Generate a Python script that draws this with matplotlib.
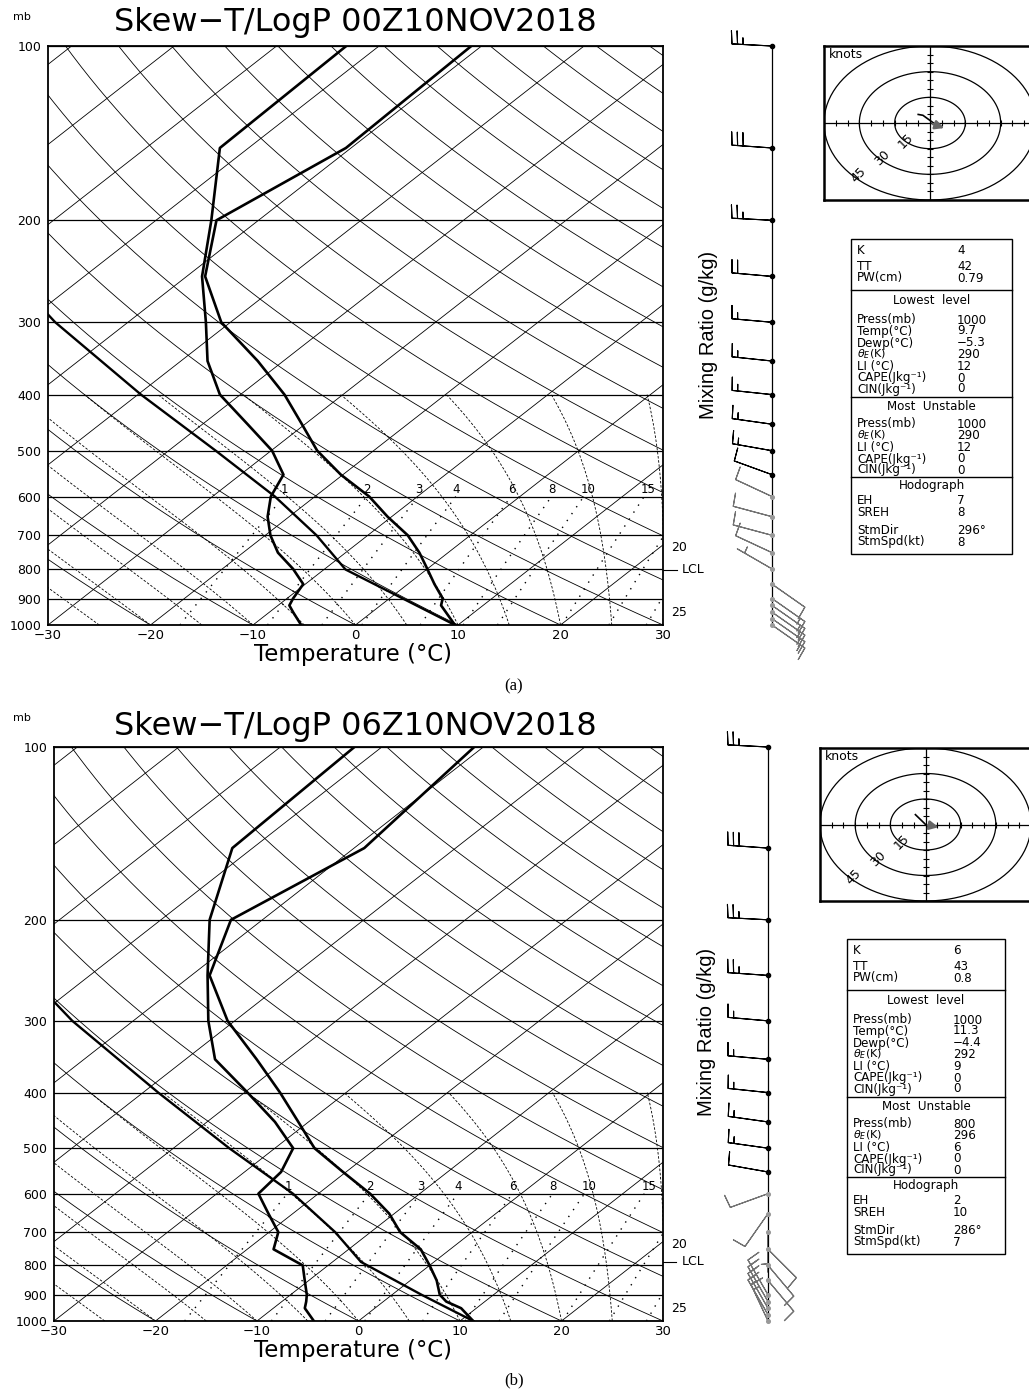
import numpy as np
import matplotlib.pyplot as plt
from matplotlib.patches import Rectangle

W, H = 1029, 1392
SKEW = 72.3  # isotherm shift (deg C) per decade of pressure

# ---- soundings ----
levels = [1000, 950, 925, 900, 850, 800, 750, 700, 650, 600, 550, 500,
          450, 400, 350, 300, 250, 200, 150, 100]
temp_00z = [9.7, 7.2, 5.9, 5.2, 2.6, 0.0, -2.8, -6.1, -10.4, -14.7, -20.2, -25.5,
            -30.3, -35.7, -42.5, -50.9, -58.2, -64.1, -60.5, -61.0]
dewp_00z = [-5.3, -7.7, -8.9, -9.4, -10.2, -13.1, -16.6, -19.5, -22.1, -24.3, -25.8, -29.9,
            -35.6, -42.0, -47.4, -52.4, -58.5, -64.6, -72.8, -73.2]
temp_06z = [11.3, 8.5, 6.2, 4.7, 2.6, 0.0, -2.9, -7.1, -10.5, -14.9, -20.3, -26.1,
            -31.0, -36.5, -43.0, -50.7, -58.2, -63.1, -59.0, -60.9]
dewp_06z = [-4.4, -6.9, -7.6, -8.4, -10.4, -12.5, -17.4, -19.1, -22.4, -25.9, -26.4, -28.2,
            -33.3, -39.7, -47.1, -52.6, -58.4, -65.2, -72.0, -72.7]

# lifted parcel paths
parcel_p_00z = [1000, 900, 802, 700, 600, 500, 400, 300, 250]
parcel_t_00z = [9.7, 1.3, -7.9, -15.0, -23.9, -35.4, -49.7, -67.1, -77.0]
parcel_p_06z = [1000, 900, 789, 700, 600, 500, 400, 300, 250]
parcel_t_06z = [11.3, 2.9, -7.2, -13.5, -22.5, -34.5, -48.5, -66.0, -76.0]
lcl_00z = 802
lcl_06z = 789

# ---- winds (kt, direction from) ----
wind_p = [100, 150, 200, 250, 300, 350, 400, 450, 500, 550, 600, 650, 700,
          750, 800, 850, 900, 925, 950, 975, 1000]
wspd_00z = [25, 30, 25, 20, 15, 15, 15, 15, 15, 10, 10, 10, 10,
            10, 5, 10, 15, 15, 15, 15, 15]
wdir_00z = [273, 274, 273, 275, 275, 276, 276, 278, 280, 290, 295, 285, 285,
            295, 300, 125, 125, 125, 125, 125, 125]
wspd_06z = [25, 30, 25, 25, 15, 15, 15, 15, 15, 10, 10, 10, 5,
            10, 10, 10, 15, 15, 15, 15, 15]
wdir_06z = [273, 274, 273, 274, 275, 275, 276, 278, 278, 280, 250, 215, 180,
            135, 140, 140, 330, 330, 330, 330, 335]

# ---- hodographs ----
hodo_u_00z = [-5.0, -3.0, 3.0]
hodo_v_00z = [5.0, 4.5, -1.5]
hodo_u_06z = [-4.3, -0.7, 1.4]
hodo_v_06z = [5.8, 1.0, -1.9]
stm_00z = (296, 8)
stm_06z = (286, 7)

# ---- index tables ----
index_names = ["K", "TT", "PW(cm)"]
index_00z = ["4", "42", "0.79"]
index_06z = ["6", "43", "0.8"]
lowest_names = ["Press(mb)", "Temp(°C)", "Dewp(°C)", r"$\theta_E$(K)", "LI (°C)",
                "CAPE(Jkg\u207b\u00b9)", "CIN(Jkg\u207b\u00b9)"]
lowest_00z = ["1000", "9.7", "\u22125.3", "290", "12", "0", "0"]
lowest_06z = ["1000", "11.3", "\u22124.4", "292", "9", "0", "0"]
mu_names = ["Press(mb)", r"$\theta_E$(K)", "LI (°C)",
            "CAPE(Jkg\u207b\u00b9)", "CIN(Jkg\u207b\u00b9)"]
mu_00z = ["1000", "290", "12", "0", "0"]
mu_06z = ["800", "296", "6", "0", "0"]
hodo_names = ["EH", "SREH", "StmDir", "StmSpd(kt)"]
eh_00z = ["7", "8"]
eh_06z = ["2", "10"]

mix_ratios = [1, 2, 3, 4, 6, 8, 10, 15, 20, 25]


def skx(t, p):
    return np.asarray(t, dtype=float) + SKEW * np.log10(1000.0 / np.asarray(p, dtype=float))


def moist_adiabat(tw_c, p):
    Rd, cp, Lv, eps = 287.04, 1005.7, 2.501e6, 0.622

    def slope(t, pr):
        es = 6.112 * np.exp(17.67 * (t - 273.15) / (t - 29.65))
        rs = eps * es / (pr - es)
        return (Rd * t + Lv * rs) / pr / (cp + Lv * Lv * rs * eps / (Rd * t * t))

    out = [tw_c + 273.15]
    for i in range(1, len(p)):
        h = p[i] - p[i - 1]
        t, p0 = out[-1], p[i - 1]
        k1 = slope(t, p0)
        k2 = slope(t + h * k1 / 2, p0 + h / 2)
        k3 = slope(t + h * k2 / 2, p0 + h / 2)
        k4 = slope(t + h * k3, p0 + h)
        out.append(t + h * (k1 + 2 * k2 + 2 * k3 + k4) / 6)
    return np.array(out) - 273.15


def mix_dewpoint(r, p):
    e = r * p / (622.0 + r)
    lg = np.log(e / 6.112)
    return 243.5 * lg / (17.67 - lg)


def px_axes(fig, left, top, width, height):
    return fig.add_axes([left / W, 1 - (top + height) / H, width / W, height / H])


def draw_skewt(ax, temp, dewp, par_p, par_t, lcl):
    pp = np.geomspace(1000, 100, 200)
    for t in range(-110, 40, 10):
        ax.plot(skx(t, pp), pp, color="k", lw=0.6)
    for th in range(-40, 180, 10):
        tk = (th + 273.15) * (pp / 1000.0) ** 0.2857 - 273.15
        ax.plot(skx(tk, pp), pp, color="k", lw=0.6)
    pm = np.arange(1000, 399, -5.0)
    for tw in range(-40, 35, 5):
        ax.plot(skx(moist_adiabat(tw, pm), pm), pm, color="k", lw=0.6, dashes=(3, 2))
    pw = np.linspace(1000, 600, 80)
    for r in mix_ratios:
        ax.plot(skx(mix_dewpoint(r, pw), pw), pw, color="k", lw=1.0, ls=(0, (1, 5)))
        if r <= 15:
            ax.text(skx(mix_dewpoint(r, 600), 600) - 0.3, 598, str(r), fontsize=8.5,
                    ha="left", va="bottom")
    for p in range(100, 1001, 100):
        ax.axhline(p, color="k", lw=0.9)

    ax.plot(skx(par_t, par_p), par_p, color="k", lw=1.7)
    ax.plot(skx(dewp, levels), levels, color="k", lw=1.9)
    ax.plot(skx(temp, levels), levels, color="k", lw=1.9)

    ax.set_yscale("log")
    ax.set_ylim(1000, 100)
    ax.set_xlim(-30, 30)
    ax.set_yticks(range(100, 1001, 100))
    ax.set_yticklabels([str(p) for p in range(100, 1001, 100)])
    ax.yaxis.set_minor_locator(plt.NullLocator())
    ax.set_xticks(range(-30, 31, 10))
    ax.tick_params(length=0, labelsize=9.5)
    ax.tick_params(axis="y", pad=5, labelsize=9)
    ax.tick_params(axis="x", pad=3)
    for s in ax.spines.values():
        s.set_linewidth(1.3)

    ytr = ax.get_yaxis_transform()
    ax.text(1.013, 735, "20", transform=ytr, fontsize=9, va="center")
    ax.text(1.013, 953, "25", transform=ytr, fontsize=9, va="center")
    ax.plot([1.0, 1.022], [lcl, lcl], transform=ytr, color="k", lw=0.8, clip_on=False)
    ax.text(1.03, lcl, "LCL", transform=ytr, fontsize=9, va="center")


def draw_barbs(ax, spd, wdir):
    spd = np.array(spd, dtype=float)
    rad = np.deg2rad(wdir)
    u = -spd * np.sin(rad)
    v = -spd * np.cos(rad)
    pw = np.array(wind_p, dtype=float)
    x = np.full(len(pw), 72.0)
    upper = pw < 600
    ax.plot([72, 72], [100, 1000], color="k", lw=0.9)
    sizes = dict(spacing=0.14, height=0.33, width=0.06, emptybarb=0.0)
    ax.barbs(x[upper], pw[upper], u[upper], v[upper], length=7.6, sizes=sizes,
             color="k", lw=0.8, clip_on=False)
    ax.barbs(x[~upper], pw[~upper], u[~upper], v[~upper], length=7.6, sizes=sizes,
             color="0.45", lw=0.8, clip_on=False)
    ax.scatter(x[upper], pw[upper], s=9, color="k", zorder=3, clip_on=False)
    ax.scatter(x[~upper], pw[~upper], s=7, color="0.6", zorder=3, clip_on=False)
    ax.set_yscale("log")
    ax.set_ylim(1000, 100)
    ax.set_xlim(0, 100)
    ax.axis("off")


def draw_hodograph(ax, hu, hv, stm):
    th = np.linspace(0, 2 * np.pi, 200)
    for r in (15, 30, 45):
        ax.plot(r * np.cos(th), r * np.sin(th), color="k", lw=0.9)
        a = np.deg2rad(225)
        ax.text(r * np.cos(a) * 0.96, r * np.sin(a) * 0.96, str(r), rotation=45,
                fontsize=9, ha="center", va="center")
    ax.axhline(0, color="k", lw=0.9)
    ax.axvline(0, color="k", lw=0.9)
    tk = [t for t in range(-45, 46, 5) if t != 0]
    ax.plot(tk, np.zeros(len(tk)), ls="none", marker="|", ms=4, color="k", mew=0.8)
    ax.plot(np.zeros(len(tk)), tk, ls="none", marker="_", ms=4, color="k", mew=0.8)
    sd, ss = stm
    su = ss * np.sin(np.deg2rad(sd + 180))
    sv = ss * np.cos(np.deg2rad(sd + 180))
    ax.annotate("", xy=(su, sv), xytext=(0, 0),
                arrowprops=dict(arrowstyle="-|>", color="0.4", lw=1.8, mutation_scale=13))
    ax.plot(hu, hv, color="k", lw=1.2)
    ax.text(-43, 40, "knots", fontsize=9, ha="left", va="center")
    ax.set_xlim(-45, 45)
    ax.set_ylim(-45, 45)
    ax.set_xticks([])
    ax.set_yticks([])
    for s in ax.spines.values():
        s.set_linewidth(1.8)


def table_text(ov, x, y, s, fs):
    # the theta label carries a mathtext subscript, keep it a touch smaller
    size = fs - 0.6 if s.startswith("$") else fs
    ov.text(x, y, s, fontsize=size, va="center")


def draw_table(ov, left, top, width, idx, low, mu, eh, stm):
    fs = 8.6
    row_y = [12, 27, 39]
    low_y = [81, 92, 104, 115.5, 127.5, 139, 150]
    mu_y = [185, 196.5, 208.5, 220, 231]
    hodo_y = [262, 274, 292, 303]
    ov.add_patch(Rectangle((left, top), width, 315, fill=False, ec="k", lw=1.0))
    for dy in (51, 158, 238):
        ov.plot([left, left + width], [top + dy, top + dy], color="k", lw=1.0)
    lx, vx = left + 6, left + 106
    for name, val, dy in zip(index_names, idx, row_y):
        table_text(ov, lx, top + dy, name, fs)
        table_text(ov, vx, top + dy, val, fs)
    ov.text(left + width / 2, top + 62, "Lowest  level", fontsize=fs, ha="center", va="center")
    for name, val, dy in zip(lowest_names, low, low_y):
        table_text(ov, lx, top + dy, name, fs)
        table_text(ov, vx, top + dy, val, fs)
    ov.text(left + width / 2, top + 167, "Most  Unstable", fontsize=fs, ha="center", va="center")
    for name, val, dy in zip(mu_names, mu, mu_y):
        table_text(ov, lx, top + dy, name, fs)
        table_text(ov, vx, top + dy, val, fs)
    ov.text(left + width / 2, top + 247, "Hodograph", fontsize=fs, ha="center", va="center")
    hvals = eh + [f"{stm[0]}°", str(stm[1])]
    for name, val, dy in zip(hodo_names, hvals, hodo_y):
        table_text(ov, lx, top + dy, name, fs)
        table_text(ov, vx, top + dy, val, fs)


fig = plt.figure(figsize=(W / 100, H / 100), dpi=100)

panels = [
    dict(skew=(48, 46, 615, 579), barb=(700, 46, 100, 579), hodo=(824, 46, 212, 154),
         table=(851, 239, 161), title="Skew\u2212T/LogP 00Z10NOV2018", ty=22, my=17,
         xl=655, mix=(708, 335), tag="(a)", tag_y=686,
         temp=temp_00z, dewp=dewp_00z, pp=parcel_p_00z, pt=parcel_t_00z, lcl=lcl_00z,
         spd=wspd_00z, wdir=wdir_00z, hu=hodo_u_00z, hv=hodo_v_00z, stm=stm_00z,
         idx=index_00z, low=lowest_00z, mu=mu_00z, eh=eh_00z),
    dict(skew=(54, 747, 609, 574), barb=(696, 747, 100, 574), hodo=(820, 748, 211, 153),
         table=(847, 939, 158), title="Skew\u2212T/LogP 06Z10NOV2018", ty=727, my=718,
         xl=1351, mix=(707, 1032), tag="(b)", tag_y=1380,
         temp=temp_06z, dewp=dewp_06z, pp=parcel_p_06z, pt=parcel_t_06z, lcl=lcl_06z,
         spd=wspd_06z, wdir=wdir_06z, hu=hodo_u_06z, hv=hodo_v_06z, stm=stm_06z,
         idx=index_06z, low=lowest_06z, mu=mu_06z, eh=eh_06z),
]

ov = fig.add_axes([0, 0, 1, 1], zorder=5)
ov.set_xlim(0, W)
ov.set_ylim(H, 0)
ov.axis("off")

for pn in panels:
    ax = px_axes(fig, *pn["skew"])
    draw_skewt(ax, pn["temp"], pn["dewp"], pn["pp"], pn["pt"], pn["lcl"])
    bax = px_axes(fig, *pn["barb"])
    draw_barbs(bax, pn["spd"], pn["wdir"])
    hax = px_axes(fig, *pn["hodo"])
    draw_hodograph(hax, pn["hu"], pn["hv"], pn["stm"])
    tl, tt, tw = pn["table"]
    draw_table(ov, tl, tt, tw, pn["idx"], pn["low"], pn["mu"], pn["eh"], pn["stm"])

    ov.text(355, pn["ty"], pn["title"], fontsize=23, ha="center", va="center")
    ov.text(22, pn["my"], "mb", fontsize=8, ha="center", va="center")
    ov.text(353, pn["xl"], "Temperature (°C)", fontsize=16.5, ha="center", va="center")
    ov.text(pn["mix"][0], pn["mix"][1], "Mixing Ratio (g/kg)", fontsize=14.5,
            family="Liberation Sans", rotation=90, ha="center", va="center")
    ov.text(514, pn["tag_y"], pn["tag"], fontsize=12, family="Liberation Serif",
            ha="center", va="center")

fig.savefig("out.png", dpi=100)
